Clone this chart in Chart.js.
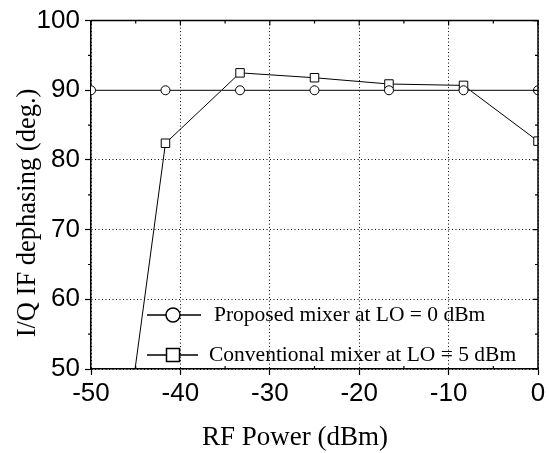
<!DOCTYPE html>
<html>
<head>
<meta charset="utf-8">
<script src="https://cdn.jsdelivr.net/npm/chart.js@4.4.1/dist/chart.umd.min.js"></script>
<style>
  html, body { margin: 0; padding: 0; background: #fff; }
  #wrap { width: 549px; height: 453px; }
</style>
</head>
<body>
<div id="wrap"><canvas id="chart" width="549" height="453"></canvas></div>
<script>
// values
const rfPower = [-50, -41.67, -33.33, -25, -16.67, -8.33, 0];
const proposedDephasing = [90, 90, 90, 90, 90, 90, 90];
const conventionalDephasing = [3, 82.4, 92.5, 91.8, 90.9, 90.7, 82.7];

const xTicks = [-50, -40, -30, -20, -10, 0];
const yTicks = [50, 60, 70, 80, 90, 100];
const xMinorTicks = [-45, -35, -25, -15, -5];
const yMinorTicks = [55, 65, 75, 85, 95];

const seriesLabels = ["Proposed mixer at LO = 0 dBm", "Conventional mixer at LO = 5 dBm"];
const xTitle = "RF Power (dBm)";
const yTitle = "I/Q IF dephasing (deg.)";

const tickFont = { family: "'Liberation Sans', Arial, sans-serif", size: 26 };
const serif = "'Liberation Serif', 'Times New Roman', serif";

function toPoints(xs, ys) {
  return xs.map((x, i) => ({ x: x, y: ys[i] }));
}

// box, minor ticks, legend and axis titles
const framePlugin = {
  id: "frame",
  afterDatasetsDraw(chart) {
    const ctx = chart.ctx;
    const a = chart.chartArea;
    const xs = chart.scales.x;
    const ys = chart.scales.y;
    ctx.save();
    ctx.strokeStyle = "#000";
    ctx.lineWidth = 1.5;
    ctx.beginPath();
    ctx.moveTo(a.left, a.top);
    ctx.lineTo(a.right, a.top);
    ctx.lineTo(a.right, a.bottom);
    ctx.stroke();

    ctx.lineWidth = 1.2;
    ctx.beginPath();
    xTicks.forEach((v) => {
      const px = xs.getPixelForValue(v);
      ctx.moveTo(px, a.top);
      ctx.lineTo(px, a.top + 5);
    });
    xMinorTicks.forEach((v) => {
      const px = xs.getPixelForValue(v);
      ctx.moveTo(px, a.top);
      ctx.lineTo(px, a.top + 3);
      ctx.moveTo(px, a.bottom);
      ctx.lineTo(px, a.bottom - 3);
    });
    yTicks.forEach((v) => {
      const py = ys.getPixelForValue(v);
      ctx.moveTo(a.right, py);
      ctx.lineTo(a.right - 5, py);
    });
    yMinorTicks.forEach((v) => {
      const py = ys.getPixelForValue(v);
      ctx.moveTo(a.right, py);
      ctx.lineTo(a.right - 3, py);
      ctx.moveTo(a.left, py);
      ctx.lineTo(a.left - 3, py);
    });
    ctx.stroke();
    ctx.restore();
  },
  afterDraw(chart) {
    const ctx = chart.ctx;
    ctx.save();
    ctx.fillStyle = "#000";
    ctx.strokeStyle = "#000";

    // legend
    ctx.lineWidth = 1.5;
    ctx.beginPath();
    ctx.moveTo(147, 315);
    ctx.lineTo(201, 315);
    ctx.moveTo(147, 355);
    ctx.lineTo(198, 355);
    ctx.stroke();
    ctx.fillStyle = "#fff";
    ctx.beginPath();
    ctx.arc(173, 315, 7, 0, Math.PI * 2);
    ctx.fill();
    ctx.stroke();
    ctx.fillRect(166.5, 348.5, 13, 13);
    ctx.strokeRect(166.5, 348.5, 13, 13);

    ctx.fillStyle = "#000";
    ctx.font = "21.5px " + serif;
    ctx.textAlign = "left";
    ctx.textBaseline = "alphabetic";
    ctx.fillText(seriesLabels[0], 214, 321);
    ctx.fillText(seriesLabels[1], 209, 361);

    // axis titles
    ctx.font = "27px " + serif;
    ctx.textAlign = "center";
    ctx.fillText(xTitle, 295, 445);

    ctx.font = "26.5px " + serif;
    ctx.translate(35, 213);
    ctx.rotate(-Math.PI / 2);
    ctx.fillText(yTitle, 0, 0);
    ctx.restore();
  }
};

new Chart(document.getElementById("chart"), {
  type: "line",
  data: {
    datasets: [
      {
        label: seriesLabels[0],
        data: toPoints(rfPower, proposedDephasing),
        borderColor: "#333",
        borderWidth: 1.2,
        pointStyle: "circle",
        pointRadius: 4.5,
        pointBackgroundColor: "#fff",
        pointBorderColor: "#000",
        pointBorderWidth: 1,
        tension: 0,
      },
      {
        label: seriesLabels[1],
        data: toPoints(rfPower, conventionalDephasing),
        borderColor: "#000",
        borderWidth: 1,
        pointStyle: "rect",
        pointRadius: 6,
        pointBackgroundColor: "#fff",
        pointBorderColor: "#000",
        pointBorderWidth: 1,
        tension: 0,
      },
    ],
  },
  options: {
    responsive: false,
    animation: false,
    devicePixelRatio: 1,
    layout: { padding: { top: 19, right: 11, left: 0, bottom: 0 } },
    plugins: {
      legend: { display: false },
      tooltip: { enabled: false },
    },
    scales: {
      x: {
        type: "linear",
        min: -50,
        max: 0,
        afterBuildTicks: (scale) => {
          scale.ticks = xTicks.map((v) => ({ value: v }));
        },
        afterFit: (scale) => {
          scale.height = 84;
        },
        ticks: { font: tickFont, color: "#000", padding: 3, maxRotation: 0, autoSkip: false },
        grid: {
          color: "#000",
          lineWidth: 1,
          tickLength: 6,
          tickWidth: 1.2,
          tickColor: "#000",
        },
        border: { display: true, color: "#000", width: 1.5, dash: [1, 2.5] },
      },
      y: {
        type: "linear",
        min: 50,
        max: 100,
        afterBuildTicks: (scale) => {
          scale.ticks = yTicks.map((v) => ({ value: v }));
        },
        afterFit: (scale) => {
          scale.width = 91;
        },
        ticks: { font: tickFont, color: "#000", padding: 5, autoSkip: false },
        grid: {
          color: "#000",
          lineWidth: 1,
          tickLength: 6,
          tickWidth: 1.2,
          tickColor: "#000",
        },
        border: { display: true, color: "#000", width: 1.5, dash: [1, 2.5] },
      },
    },
  },
  plugins: [framePlugin],
});
</script>
</body>
</html>
